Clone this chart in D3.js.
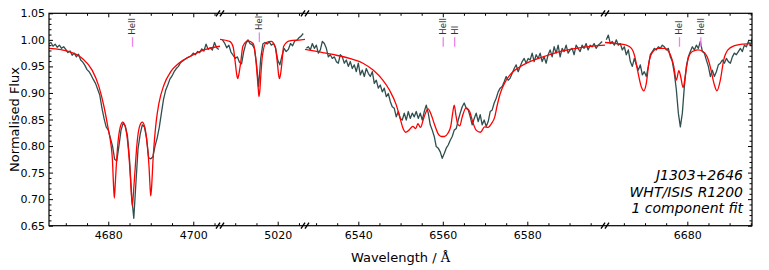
<!DOCTYPE html>
<html>
<head>
<meta charset="utf-8">
<script src="https://cdn.jsdelivr.net/npm/d3@7/dist/d3.min.js"></script>
<style>
  body { margin: 0; background: #fff; }
</style>
</head>
<body>
<div id="chart"></div>
<script>
// wavelength windows (Å) shown side by side, with their labelled ticks
const windows = [[4666.05, 4706.29], [5006.42, 5026.42], [6527.38, 6598.39], [6660.54, 6695.29]];
const majorTicks = [[4680, 4700], [5020], [6540, 6560, 6580], [6680]];
const yTicks = [0.65, 0.70, 0.75, 0.80, 0.85, 0.90, 0.95, 1.00, 1.05];

// observed spectrum: start wavelength, sampling and normalised flux per window
const obsStart = [4666.0, 5007.0, 6527.70, 6660.85];
const obsStep = [0.5, 0.5, 0.473, 0.473];
const obs1 = [0.992, 0.995, 0.988, 0.992, 0.986, 0.990, 0.984, 0.987, 0.982, 0.976,
  0.979, 0.971, 0.975, 0.968, 0.973, 0.962, 0.958, 0.952, 0.944, 0.940,
  0.933, 0.925, 0.918, 0.907, 0.896, 0.872, 0.852, 0.836, 0.830, 0.815,
  0.800, 0.775, 0.772, 0.800, 0.830, 0.843, 0.838, 0.820, 0.775, 0.705,
  0.664, 0.730, 0.795, 0.822, 0.840, 0.836, 0.815, 0.778, 0.776, 0.780,
  0.800, 0.815, 0.835, 0.862, 0.888, 0.905, 0.915, 0.926, 0.932, 0.940,
  0.946, 0.950, 0.957, 0.960, 0.963, 0.966, 0.968, 0.970, 0.975, 0.972,
  0.978, 0.976, 0.983, 0.979, 0.992, 0.982, 0.985, 0.981, 0.995, 0.985, 0.982];
const obs2 = [1.000, 0.994, 0.985, 0.990, 0.977, 0.971, 0.965, 0.968, 0.958, 0.955,
  0.978, 0.993, 1.000, 0.993, 0.991, 0.984, 0.955, 0.912, 0.965, 0.992,
  0.995, 0.992, 0.996, 0.990, 0.993, 0.985, 0.962, 0.953, 0.970, 0.984,
  0.978, 0.982, 0.993, 0.989, 0.998, 0.999, 1.004, 1.007, 1.012];
const obs3 = [0.984, 0.987, 0.981, 0.993, 0.984, 0.990, 0.975, 0.981, 0.997, 0.993,
  0.984, 0.968, 0.972, 0.965, 0.968, 0.959, 0.956, 0.972, 0.968, 0.956,
  0.962, 0.950, 0.959, 0.946, 0.953, 0.940, 0.956, 0.934, 0.943, 0.931,
  0.946, 0.937, 0.931, 0.940, 0.918, 0.924, 0.909, 0.915, 0.902, 0.909,
  0.893, 0.899, 0.884, 0.874, 0.871, 0.855, 0.865, 0.852, 0.849, 0.862,
  0.849, 0.865, 0.852, 0.862, 0.855, 0.865, 0.852, 0.862, 0.849, 0.865,
  0.877, 0.862, 0.840, 0.830, 0.818, 0.799, 0.796, 0.789, 0.777, 0.786,
  0.796, 0.802, 0.811, 0.818, 0.830, 0.833, 0.849, 0.862, 0.874, 0.881,
  0.871, 0.868, 0.855, 0.840, 0.852, 0.862, 0.846, 0.859, 0.840, 0.849,
  0.837, 0.846, 0.865, 0.868, 0.881, 0.890, 0.902, 0.909, 0.912, 0.921,
  0.931, 0.924, 0.928, 0.937, 0.946, 0.953, 0.940, 0.950, 0.959, 0.965,
  0.956, 0.965, 0.962, 0.975, 0.959, 0.972, 0.965, 0.975, 0.959, 0.968,
  0.956, 0.972, 0.981, 0.968, 0.987, 0.975, 0.990, 0.968, 0.984, 0.978,
  0.990, 0.975, 0.981, 0.984, 0.972, 0.990, 0.984, 0.978, 0.990, 0.984,
  0.993, 0.981, 0.990, 0.987, 0.993, 0.984, 0.990, 0.993, 0.997];
const obs4 = [1.000, 1.009, 0.993, 0.997, 0.990, 1.000, 0.990, 0.993, 0.981, 0.987,
  0.972, 0.981, 0.959, 0.950, 0.965, 0.953, 0.943, 0.953, 0.934, 0.940,
  0.931, 0.950, 0.972, 0.978, 0.984, 0.981, 0.987, 0.984, 0.990, 0.987,
  0.981, 0.984, 0.968, 0.959, 0.937, 0.906, 0.862, 0.836, 0.862, 0.912,
  0.950, 0.968, 0.978, 0.987, 0.981, 0.990, 0.984, 0.997, 0.978, 0.975,
  0.962, 0.950, 0.931, 0.943, 0.931, 0.940, 0.953, 0.956, 0.962, 0.956,
  0.965, 0.959, 0.956, 0.968, 0.975, 0.972, 0.978, 0.984, 0.978, 0.990,
  0.987, 0.997, 0.990, 1.003];

// model fit, [wavelength, flux]
const model1 = [[4666.0, 0.984], [4670.8, 0.978], [4673.9, 0.965], [4676.2, 0.943], [4677.8, 0.912],
  [4679.0, 0.874], [4680.0, 0.832], [4680.5, 0.810], [4681.0, 0.770], [4681.2, 0.732],
  [4681.42, 0.702], [4681.65, 0.730], [4681.9, 0.765], [4682.3, 0.808], [4682.8, 0.835],
  [4683.4, 0.845], [4684.0, 0.836], [4684.6, 0.805], [4685.1, 0.755], [4685.4, 0.715],
  [4685.66, 0.687], [4685.95, 0.715], [4686.3, 0.755], [4686.8, 0.808], [4687.4, 0.838],
  [4688.0, 0.845], [4688.6, 0.835], [4689.2, 0.800], [4689.6, 0.760], [4689.8, 0.728],
  [4690.0, 0.706], [4690.25, 0.730], [4690.5, 0.770], [4690.9, 0.815], [4691.3, 0.848],
  [4691.9, 0.880], [4693.1, 0.915], [4694.7, 0.940], [4696.6, 0.956], [4699.8, 0.971],
  [4702.9, 0.982], [4706.3, 0.988]];
const model2 = [[5006.4, 1.001], [5008.7, 0.997], [5009.5, 0.987], [5010.0, 0.958], [5010.35, 0.935],
  [5010.6, 0.927], [5010.9, 0.937], [5011.3, 0.958], [5011.8, 0.988], [5013.0, 0.998],
  [5014.2, 0.993], [5014.8, 0.968], [5015.2, 0.930], [5015.45, 0.905], [5015.6, 0.893],
  [5015.8, 0.905], [5016.0, 0.930], [5016.4, 0.970], [5017.3, 0.995], [5018.5, 0.997],
  [5019.4, 0.987], [5019.9, 0.958], [5020.2, 0.935], [5020.4, 0.927], [5020.7, 0.937],
  [5021.0, 0.958], [5021.4, 0.988], [5022.8, 0.998], [5025.5, 1.000], [5026.5, 1.001]];
const model3 = [[6527.3, 0.982], [6531.6, 0.976], [6534.8, 0.971], [6537.9, 0.965], [6541.1, 0.956],
  [6543.5, 0.943], [6545.8, 0.924], [6547.4, 0.905], [6549.0, 0.877], [6549.9, 0.852],
  [6550.6, 0.833], [6551.2, 0.826], [6552.0, 0.830], [6552.9, 0.837], [6553.6, 0.833],
  [6554.1, 0.842], [6554.7, 0.835], [6555.5, 0.853], [6556.5, 0.870], [6557.3, 0.858],
  [6558.1, 0.839], [6558.9, 0.823], [6559.6, 0.818], [6560.4, 0.818], [6561.2, 0.824],
  [6561.9, 0.838], [6562.3, 0.860], [6562.7, 0.877], [6563.1, 0.858], [6563.5, 0.842],
  [6564.0, 0.838], [6564.6, 0.855], [6565.5, 0.872], [6566.4, 0.864], [6567.1, 0.845],
  [6567.9, 0.830], [6568.9, 0.826], [6569.9, 0.836], [6570.7, 0.835], [6571.5, 0.842],
  [6572.3, 0.855], [6572.8, 0.874], [6573.6, 0.899], [6574.6, 0.918], [6576.2, 0.937],
  [6578.2, 0.949], [6580.6, 0.959], [6583.7, 0.968], [6587.7, 0.978], [6591.6, 0.984],
  [6595.5, 0.988], [6598.5, 0.990]];
const model4 = [[6660.5, 0.995], [6663.2, 0.993], [6665.6, 0.990], [6666.8, 0.984], [6667.6, 0.968],
  [6668.3, 0.940], [6669.1, 0.912], [6669.7, 0.904], [6670.3, 0.918], [6670.9, 0.956],
  [6671.7, 0.976], [6673.1, 0.984], [6674.6, 0.984], [6675.8, 0.975], [6676.8, 0.950],
  [6677.4, 0.924], [6678.0, 0.942], [6678.4, 0.932], [6679.0, 0.910], [6679.6, 0.937],
  [6680.2, 0.965], [6681.2, 0.978], [6682.5, 0.981], [6683.7, 0.978], [6684.7, 0.968],
  [6685.4, 0.950], [6686.3, 0.918], [6687.0, 0.904], [6687.8, 0.924], [6688.6, 0.962],
  [6689.6, 0.981], [6691.2, 0.989], [6693.2, 0.992], [6695.4, 0.993]];

// line identifications: name, rest wavelength, flux at top of marker
const lineNames = ["HeII", "HeI", "HeII", "HI", "HeI", "HeII"];
const lineWaves = [4685.7, 5015.68, 6560.1, 6562.8, 6678.15, 6683.2];
const lineLevels = [1.005, 1.014, 1.005, 1.005, 1.005, 1.005];

const annotation = ["J1303+2646", "WHT/ISIS R1200", "1 component fit"];

const observed = [obs1, obs2, obs3, obs4];
const models = [model1, model2, model3, model4];

const width = 769, height = 270;
const plotTop = 13.3, plotBottom = 225.7;
const edges = [49, 220, 305, 605, 752];

const svg = d3.select("#chart").append("svg")
  .attr("width", width)
  .attr("height", height)
  .style("font-family", "'DejaVu Sans', sans-serif");

const y = d3.scaleLinear().domain([0.65, 1.05]).range([plotBottom, plotTop]);
const xs = windows.map((w, i) => d3.scaleLinear().domain(w).range([edges[i], edges[i + 1]]));

const defs = svg.append("defs");
windows.forEach((w, i) => {
  defs.append("clipPath").attr("id", "clip" + i)
    .append("rect")
    .attr("x", edges[i]).attr("y", plotTop)
    .attr("width", edges[i + 1] - edges[i]).attr("height", plotBottom - plotTop);
});

// spectra
windows.forEach((w, i) => {
  const x = xs[i];
  const g = svg.append("g").attr("clip-path", `url(#clip${i})`);
  const pts = observed[i].map((f, j) => [obsStart[i] + j * obsStep[i], f]);

  g.append("path")
    .datum(pts)
    .attr("fill", "none")
    .attr("stroke", "#2f4f4f")
    .attr("stroke-width", 1.3)
    .attr("stroke-linejoin", "round")
    .attr("d", d3.line().x(d => x(d[0])).y(d => y(d[1])));

  g.append("path")
    .datum(models[i])
    .attr("fill", "none")
    .attr("stroke", "#ff0000")
    .attr("stroke-width", 1.3)
    .attr("d", d3.line().curve(d3.curveMonotoneX).x(d => x(d[0])).y(d => y(d[1])));
});

// x axes, ticks pointing inwards
function styleAxis(g) {
  g.select(".domain").remove();
  g.selectAll(".tick line").attr("stroke", "#000").attr("stroke-width", 1);
  g.selectAll("text").attr("font-family", "'DejaVu Sans', sans-serif").attr("font-size", 11).attr("fill", "#000");
}

windows.forEach((w, i) => {
  const x = xs[i];
  const minor = d3.range(Math.ceil(w[0] / 5) * 5, w[1], 5).filter(v => !majorTicks[i].includes(v));

  svg.append("g").attr("transform", `translate(0,${plotBottom})`)
    .call(d3.axisBottom(x).tickValues(majorTicks[i]).tickSize(-4).tickPadding(6).tickFormat(d3.format("d")))
    .call(styleAxis);
  svg.append("g").attr("transform", `translate(0,${plotBottom})`)
    .call(d3.axisBottom(x).tickValues(minor).tickSize(-2.5).tickFormat(""))
    .call(styleAxis);
  svg.append("g").attr("transform", `translate(0,${plotTop})`)
    .call(d3.axisTop(x).tickValues(majorTicks[i]).tickSize(-4).tickFormat(""))
    .call(styleAxis);
  svg.append("g").attr("transform", `translate(0,${plotTop})`)
    .call(d3.axisTop(x).tickValues(minor).tickSize(-2.5).tickFormat(""))
    .call(styleAxis);
});

// y axes
const yMinor = d3.range(66, 105).filter(v => v % 5 !== 0).map(v => v / 100);
svg.append("g").attr("transform", `translate(${edges[0]},0)`)
  .call(d3.axisLeft(y).tickValues(yTicks).tickSize(-4).tickPadding(4).tickFormat(d3.format(".2f")))
  .call(styleAxis);
svg.append("g").attr("transform", `translate(${edges[0]},0)`)
  .call(d3.axisLeft(y).tickValues(yMinor).tickSize(-2.5).tickFormat(""))
  .call(styleAxis);
svg.append("g").attr("transform", `translate(${edges[4]},0)`)
  .call(d3.axisRight(y).tickValues(yTicks).tickSize(-4).tickFormat(""))
  .call(styleAxis);
svg.append("g").attr("transform", `translate(${edges[4]},0)`)
  .call(d3.axisRight(y).tickValues(yMinor).tickSize(-2.5).tickFormat(""))
  .call(styleAxis);

// frame
svg.append("rect")
  .attr("x", edges[0]).attr("y", plotTop)
  .attr("width", edges[4] - edges[0]).attr("height", plotBottom - plotTop)
  .attr("fill", "none").attr("stroke", "#000").attr("stroke-width", 1.2);

// break marks
edges.slice(1, 4).forEach(ex => {
  [plotTop, plotBottom].forEach(ey => {
    [-2, 2].forEach(dx => {
      svg.append("line")
        .attr("x1", ex + dx - 2).attr("y1", ey + 3)
        .attr("x2", ex + dx + 2).attr("y2", ey - 3)
        .attr("stroke", "#000").attr("stroke-width", 1.4);
    });
  });
});

// line identifications
lineNames.forEach((name, i) => {
  const seg = windows.findIndex(w => lineWaves[i] >= w[0] && lineWaves[i] <= w[1]);
  const lx = xs[seg](lineWaves[i]);
  const yTop = y(lineLevels[i]);
  svg.append("line")
    .attr("x1", lx).attr("x2", lx)
    .attr("y1", yTop).attr("y2", y(lineLevels[i] - 0.018))
    .attr("stroke", "violet").attr("stroke-width", 1.3);
  svg.append("text")
    .attr("transform", `translate(${lx},${yTop - 2.5}) rotate(-90)`)
    .attr("dy", "0.35em")
    .attr("font-size", 8.5)
    .attr("fill", "#333")
    .text(name);
});

// annotation
annotation.forEach((t, i) => {
  svg.append("text")
    .attr("x", 743).attr("y", 180 + i * 16.5)
    .attr("text-anchor", "end")
    .attr("font-size", 14)
    .attr("font-style", "italic")
    .attr("fill", "#000")
    .text(t);
});

// axis titles
svg.append("text")
  .attr("transform", `translate(19,${(plotTop + plotBottom) / 2}) rotate(-90)`)
  .attr("text-anchor", "middle")
  .attr("font-size", 13)
  .text("Normalised Flux");

const xt = svg.append("text")
  .attr("x", (edges[0] + edges[4]) / 2).attr("y", 262)
  .attr("text-anchor", "middle")
  .attr("font-size", 13)
  .text("Wavelength / ");
xt.append("tspan").attr("font-family", "'DejaVu Serif', serif").text("Å");
</script>
</body>
</html>
